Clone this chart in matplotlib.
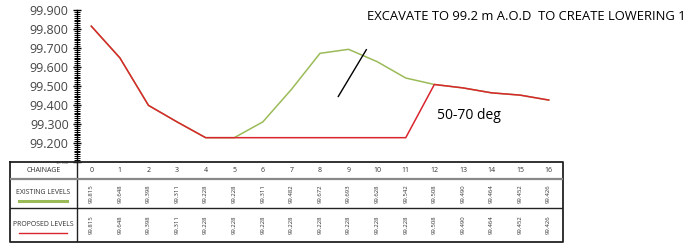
import numpy as np
import matplotlib
matplotlib.use('Agg')
import matplotlib.pyplot as plt
from matplotlib.ticker import MultipleLocator

plt.rcParams['font.family'] = ['Open Sans', 'DejaVu Sans']

# data
chainage = list(range(17))
existing = [99.815, 99.648, 99.398, 99.311, 99.228, 99.228, 99.311, 99.482, 99.672,
            99.693, 99.628, 99.542, 99.508, 99.490, 99.464, 99.452, 99.426]
proposed = [99.815, 99.648, 99.398, 99.311, 99.228, 99.228, 99.228, 99.228, 99.228,
            99.228, 99.228, 99.228, 99.508, 99.490, 99.464, 99.452, 99.426]
y_ticks = [99.1, 99.2, 99.3, 99.4, 99.5, 99.6, 99.7, 99.8, 99.9]
batter_x = [8.64, 9.62]
batter_y = [99.445, 99.691]

GREEN = '#9bbb59'
RED = '#d9262e'
W, H = 698, 244

fig = plt.figure(figsize=(W / 100, H / 100), dpi=100)

# main chart
ax = fig.add_axes([77 / W, 1 - 162 / H, (563 - 77) / W, 152 / H])
ax.plot(chainage, existing, color=GREEN, lw=1.1)
ax.plot(chainage, proposed, color=RED, lw=1.1)
ax.plot(batter_x, batter_y, color='black', lw=1.0)
ax.set_xlim(-0.5, 16.5)
ax.set_ylim(99.1, 99.9)
ax.set_yticks(y_ticks)
ax.set_yticklabels([f'{v:.3f}' for v in y_ticks])
ax.yaxis.set_minor_locator(MultipleLocator(0.01))
ax.tick_params(axis='y', which='major', direction='inout', length=6, width=1,
               labelsize=9, labelcolor='#454545', pad=3)
ax.tick_params(axis='y', which='minor', direction='inout', length=4, width=0.7)
ax.get_yticklabels()[0].set_fontsize(3)
ax.set_xticks([])
for s in ['top', 'right', 'bottom']:
    ax.spines[s].set_visible(False)
ax.spines['left'].set_linewidth(1.0)

fig.text(367 / W, 1 - 16 / H, 'EXCAVATE TO 99.2 m A.O.D  TO CREATE LOWERING 1',
         fontsize=9.4, color='black', va='center', ha='left')
ax.text(12.1, 99.345, '50-70 deg', fontsize=10, color='black', va='center')

# table below chart
left_px, right_px = 10, 563
tx0 = -0.5 - (77 - left_px) / 28.6
tab = fig.add_axes([left_px / W, 1 - 242 / H, (right_px - left_px) / W, 80 / H])
tab.set_xlim(tx0, 16.5)
tab.set_ylim(242, 162)
tab.axis('off')

# borders
tab.plot([tx0, 16.5, 16.5, tx0, tx0], [162, 162, 242, 242, 162], color='#222222', lw=1.3,
         clip_on=False)
tab.plot([-0.5, -0.5], [162, 242], color='#222222', lw=1.0)
tab.plot([tx0, 16.5], [179, 179], color='#888888', lw=1.6)
tab.plot([tx0, 16.5], [208, 208], color='#222222', lw=1.0)

lab_x = (tx0 - 0.5) / 2
tab.text(lab_x, 170.5, 'CHAINAGE', fontsize=5, ha='center', va='center', color='#333333')
tab.text(lab_x, 193, 'EXISTING LEVELS', fontsize=5, ha='center', va='center', color='#333333')
tab.text(lab_x, 225, 'PROPOSED LEVELS', fontsize=5, ha='center', va='center', color='#333333')
tab.plot([tx0 + 0.32, tx0 + 2.0], [201, 201], color=GREEN, lw=2.2)
tab.plot([tx0 + 0.32, tx0 + 2.0], [233, 233], color=RED, lw=1.0)

for c, e, p in zip(chainage, existing, proposed):
    tab.text(c, 170.5, str(c), fontsize=5, ha='center', va='center', color='#333333')
    tab.text(c, 193.5, f'{e:.3f}', fontsize=4.3, rotation=90, ha='center', va='center',
             color='#333333')
    tab.text(c, 225, f'{p:.3f}', fontsize=4.3, rotation=90, ha='center', va='center',
             color='#333333')

fig.savefig('out.png', dpi=100)
